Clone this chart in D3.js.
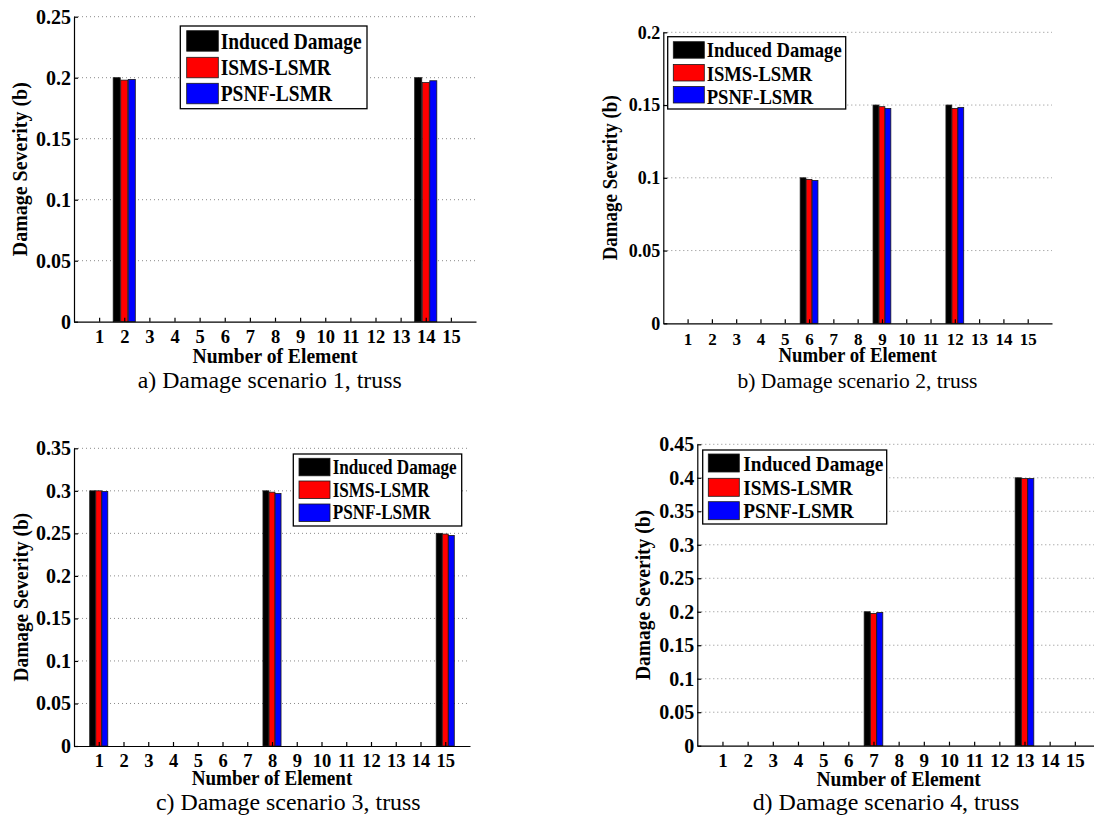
<!DOCTYPE html>
<html>
<head>
<meta charset="utf-8">
<script src="https://cdn.jsdelivr.net/npm/d3@7"></script>
</head>
<body style="margin:0;background:#fff">
<svg id="fig" width="1094" height="816" style="display:block" font-family="Liberation Serif"></svg>
<script>
// ---------------- DATA ----------------
const elements = [1, 2, 3, 4, 5, 6, 7, 8, 9, 10, 11, 12, 13, 14, 15];
const seriesNames = ["Induced Damage", "ISMS-LSMR", "PSNF-LSMR"];
const seriesColors = ["#000000", "#ff0000", "#0000ff"];

// Scenario 1
const induced1 = [0, 0.200, 0, 0, 0, 0, 0, 0, 0, 0, 0, 0, 0, 0.200, 0];
const isms1    = [0, 0.198, 0, 0, 0, 0, 0, 0, 0, 0, 0, 0, 0, 0.196, 0];
const psnf1    = [0, 0.1986, 0, 0, 0, 0, 0, 0, 0, 0, 0, 0, 0, 0.1975, 0];
// Scenario 2
const induced2 = [0, 0, 0, 0, 0, 0.100, 0, 0, 0.150, 0, 0, 0.150, 0, 0, 0];
const isms2    = [0, 0, 0, 0, 0, 0.0989, 0, 0, 0.1489, 0, 0, 0.1477, 0, 0, 0];
const psnf2    = [0, 0, 0, 0, 0, 0.0982, 0, 0, 0.1477, 0, 0, 0.1484, 0, 0, 0];
// Scenario 3
const induced3 = [0.300, 0, 0, 0, 0, 0, 0, 0.300, 0, 0, 0, 0, 0, 0, 0.250];
const isms3    = [0.300, 0, 0, 0, 0, 0, 0, 0.2984, 0, 0, 0, 0, 0, 0, 0.2492];
const psnf3    = [0.2992, 0, 0, 0, 0, 0, 0, 0.2969, 0, 0, 0, 0, 0, 0, 0.2476];
// Scenario 4
const induced4 = [0, 0, 0, 0, 0, 0, 0.200, 0, 0, 0, 0, 0, 0.400, 0, 0];
const isms4    = [0, 0, 0, 0, 0, 0, 0.1975, 0, 0, 0, 0, 0, 0.399, 0, 0];
const psnf4    = [0, 0, 0, 0, 0, 0, 0.199, 0, 0, 0, 0, 0, 0.399, 0, 0];

// Y tick values
const yTicks1 = [0, 0.05, 0.1, 0.15, 0.2, 0.25];
const yTicks2 = [0, 0.05, 0.1, 0.15, 0.2];
const yTicks3 = [0, 0.05, 0.1, 0.15, 0.2, 0.25, 0.3, 0.35];
const yTicks4 = [0, 0.05, 0.1, 0.15, 0.2, 0.25, 0.3, 0.35, 0.4, 0.45];

const captions = [
  "a) Damage scenario 1, truss",
  "b) Damage scenario 2, truss",
  "c) Damage scenario 3, truss",
  "d) Damage scenario 4, truss"
];
const xLabel = "Number of Element";
const yLabel = "Damage Severity (b)";

// ---------------- LAYOUT ----------------
const FONT = '"Liberation Serif"';
const panels = [
  { series: [induced1, isms1, psnf1], yTicks: yTicks1, caption: captions[0],
    left: 74, right: 476, top: 16.7, bottom: 321.7,
    barStep: 0.30, barW: 0.28, tickFont: 20, xTickFont: 18.5, xTickOff: 21.6,
    xLabW: 165, xLabBase: 362.7, xLabFont: 22,
    yLabX: 20.7, yLabLen: 174, yLabFont: 21,
    capCx: 269.7, capW: 264, capBase: 388, capFont: 22.5,
    lg: { x: 180.3, y: 26, w: 186.7, h: 82.7, swX: 186.7, swW: 31.6, swH: 20.5,
          rows: [30.7, 57.3, 83.3], base: [49.3, 75, 101], tx: 220.7, font: 23, indW: 141 } },
  { series: [induced2, isms2, psnf2], yTicks: yTicks2, caption: captions[1],
    left: 663.3, right: 1052, top: 32.3, bottom: 323.3,
    barStep: 0.246, barW: 0.24, tickFont: 18, xTickFont: 17, xTickOff: 21.7,
    xLabW: 158.4, xLabBase: 361.7, xLabFont: 21,
    yLabX: 610.7, yLabLen: 165, yLabFont: 20,
    capCx: 857.5, capW: 240, capBase: 387.7, capFont: 21,
    lg: { x: 667.7, y: 36.7, w: 178, h: 72.3, swX: 673.3, swW: 31, swH: 16.5,
          rows: [41.7, 64.5, 86.5], base: [57.3, 81, 104], tx: 706.7, font: 21, indW: 135 } },
  { series: [induced3, isms3, psnf3], yTicks: yTicks3, caption: captions[2],
    left: 74, right: 470, top: 448.3, bottom: 746,
    barStep: 0.245, barW: 0.24, tickFont: 20, xTickFont: 18.5, xTickOff: 20.7,
    xLabW: 160.6, xLabBase: 785, xLabFont: 21.5,
    yLabX: 21.7, yLabLen: 168.7, yLabFont: 20.5,
    capCx: 288.3, capW: 264.7, capBase: 810, capFont: 22.5,
    lg: { x: 293.3, y: 454, w: 168.4, h: 72, swX: 299, swW: 31, swH: 17.5,
          rows: [458.3, 481, 504], base: [474.3, 496.7, 519.3], tx: 332.7, font: 20, indW: 124 } },
  { series: [induced4, isms4, psnf4], yTicks: yTicks4, caption: captions[3],
    left: 697.3, right: 1100, top: 444.3, bottom: 745.7,
    barStep: 0.25, barW: 0.24, tickFont: 20, xTickFont: 19, xTickOff: 21,
    xLabW: 164.3, xLabBase: 785.7, xLabFont: 22,
    yLabX: 644, yLabLen: 170, yLabFont: 21,
    capCx: 886, capW: 266.7, capBase: 810, capFont: 22.5,
    lg: { x: 702.7, y: 450, w: 184, h: 74, swX: 708.3, swW: 31, swH: 18,
          rows: [454, 478.3, 501.7], base: [471, 495, 518.3], tx: 743.3, font: 22, indW: 140 } }
];

const svg = d3.select("#fig");
const fmt = d => d === 0 ? "0" : String(+d.toFixed(2));

function serif(sel) { return sel.style("font-family", FONT); }

panels.forEach(p => {
  const g = svg.append("g");
  const yMax = p.yTicks[p.yTicks.length - 1];
  const x = d3.scaleLinear().domain([0, 16]).range([p.left, p.right]);
  const y = d3.scaleLinear().domain([0, yMax]).range([p.bottom, p.top]);
  const unit = x(1) - x(0);

  // dotted grid lines
  g.append("g").selectAll("line")
    .data(p.yTicks.filter(t => t > 0))
    .join("line")
    .attr("x1", p.left).attr("x2", p.right)
    .attr("y1", d => y(d)).attr("y2", d => y(d))
    .attr("stroke", "#8a8a8a").attr("stroke-width", 1)
    .attr("stroke-dasharray", "1,3");

  // bars
  p.series.forEach((vals, k) => {
    g.append("g").selectAll("rect")
      .data(elements.map((e, i) => ({ e, v: vals[i] })))
      .join("rect")
      .attr("x", d => x(d.e) + (k - 1) * p.barStep * unit - p.barW * unit / 2)
      .attr("width", p.barW * unit)
      .attr("y", d => y(d.v))
      .attr("height", d => y(0) - y(d.v))
      .attr("fill", seriesColors[k])
      .attr("stroke", "#1a1a1a").attr("stroke-width", 0.8);
  });

  // y axis
  const yAx = g.append("g").attr("transform", `translate(${p.left},0)`)
    .call(d3.axisLeft(y).tickValues(p.yTicks).tickFormat(fmt)
      .tickSize(-4).tickSizeOuter(0).tickPadding(3));
  yAx.attr("font-family", "Liberation Serif").attr("font-size", p.tickFont).attr("font-weight", "bold");
  yAx.selectAll("path, line").attr("stroke", "#000").attr("stroke-width", 1.2);
  serif(yAx.selectAll("text")).style("font-weight", "bold").style("font-size", p.tickFont + "px");

  // x axis
  const xAx = g.append("g").attr("transform", `translate(0,${p.bottom})`)
    .call(d3.axisBottom(x).tickValues(elements).tickFormat(d3.format("d"))
      .tickSize(-4).tickSizeOuter(0));
  xAx.attr("font-family", "Liberation Serif").attr("font-size", p.xTickFont).attr("font-weight", "bold");
  xAx.selectAll("path, line").attr("stroke", "#000").attr("stroke-width", 1.2);
  serif(xAx.selectAll("text")).style("font-weight", "bold")
    .style("font-size", p.xTickFont + "px")
    .attr("dy", null).attr("y", p.xTickOff);

  // x label
  serif(g.append("text"))
    .attr("x", (p.left + p.right) / 2).attr("y", p.xLabBase)
    .attr("text-anchor", "middle").style("font-weight", "bold")
    .style("font-size", p.xLabFont + "px")
    .attr("textLength", p.xLabW).attr("lengthAdjust", "spacingAndGlyphs")
    .text(xLabel);

  // y label
  const cy = (p.top + p.bottom) / 2;
  serif(g.append("text"))
    .attr("transform", `translate(${p.yLabX + p.yLabFont * 0.3},${cy}) rotate(-90)`)
    .attr("text-anchor", "middle").style("font-weight", "bold")
    .style("font-size", p.yLabFont + "px")
    .attr("textLength", p.yLabLen).attr("lengthAdjust", "spacingAndGlyphs")
    .text(yLabel);

  // caption
  serif(g.append("text"))
    .attr("x", p.capCx).attr("y", p.capBase)
    .attr("text-anchor", "middle")
    .style("font-size", p.capFont + "px")
    .attr("textLength", p.capW).attr("lengthAdjust", "spacingAndGlyphs")
    .text(p.caption);

  // legend
  const L = p.lg;
  const lg = g.append("g");
  lg.append("rect").attr("x", L.x).attr("y", L.y).attr("width", L.w).attr("height", L.h)
    .attr("fill", "#fff").attr("stroke", "#000").attr("stroke-width", 1.3);
  const items = lg.selectAll("g.item").data(seriesNames).join("g").attr("class", "item");
  items.append("rect")
    .attr("x", L.swX).attr("y", (d, i) => L.rows[i])
    .attr("width", L.swW).attr("height", L.swH)
    .attr("fill", (d, i) => seriesColors[i])
    .attr("stroke", "#1a1a1a").attr("stroke-width", 0.8);
  const texts = serif(items.append("text"))
    .attr("x", L.tx).attr("y", (d, i) => L.base[i])
    .style("font-weight", "bold")
    .style("font-size", L.font + "px")
    .text(d => d);
  const nat0 = texts.nodes()[0].getComputedTextLength();
  const factor = L.indW / nat0;
  texts.each(function () {
    const n = this.getComputedTextLength();
    d3.select(this).attr("textLength", n * factor).attr("lengthAdjust", "spacingAndGlyphs");
  });
});
</script>
</body>
</html>
